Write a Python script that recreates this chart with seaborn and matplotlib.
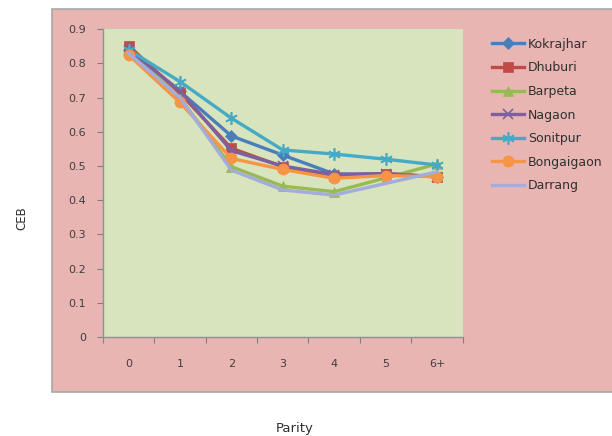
import numpy as np
import pandas as pd
import seaborn as sns
import matplotlib.pyplot as plt
from matplotlib.patches import Rectangle

# Chart data (CEB by parity)
parity = ['0', '1', '2', '3', '4', '5', '6+']
kokrajhar = [0.84, 0.718, 0.588, 0.532, 0.477, 0.475, 0.469]
dhuburi = [0.852, 0.713, 0.552, 0.498, 0.472, 0.478, 0.469]
barpeta = [0.84, 0.70, 0.498, 0.441, 0.425, 0.465, 0.506]
nagaon = [0.84, 0.72, 0.545, 0.50, 0.475, 0.478, 0.468]
sonitpur = [0.84, 0.747, 0.64, 0.547, 0.535, 0.52, 0.503]
bongaigaon = [0.825, 0.686, 0.522, 0.49, 0.464, 0.472, 0.469]
darrang = [0.83, 0.70, 0.488, 0.43, 0.415, 0.449, 0.483]

districts = ['Kokrajhar', 'Dhuburi', 'Barpeta', 'Nagaon', 'Sonitpur', 'Bongaigaon', 'Darrang']
series = [kokrajhar, dhuburi, barpeta, nagaon, sonitpur, bongaigaon, darrang]
colors = ['#4a7ebb', '#be4b48', '#98b954', '#7d60a0', '#46aac5', '#f69545', '#a3acdc']
markers = ['D', 's', '^', 'x', (6, 2, 0), 'o', None]
msizes = [6, 7, 7, 7, 9, 8, 0]

# long-form table for seaborn
rows = []
for name, vals in zip(districts, series):
    for i, v in enumerate(vals):
        rows.append({'District': name, 'pos': i, 'Parity': parity[i], 'CEB': v})
df = pd.DataFrame(rows)

fig = plt.figure(figsize=(6.12, 4.36), dpi=100)
fig.patch.set_facecolor('white')

# pink chart area with grey border
fig.patches.append(Rectangle((0.085, 0.101), 0.93, 0.878, transform=fig.transFigure,
                             facecolor='#e8b5b3', edgecolor='#a8a8a8', linewidth=1.2, zorder=-1))

ax = fig.add_axes([0.168, 0.227, 0.588, 0.706])
ax.set_zorder(1)
ax.set_facecolor('#d8e4bd')

for name, col, mk, ms in zip(districts, colors, markers, msizes):
    sub = df[df['District'] == name]
    sns.lineplot(data=sub, x='pos', y='CEB', ax=ax, color=col, marker=mk,
                 markersize=ms, linewidth=2.4, label=name,
                 markeredgecolor=col, markeredgewidth=1.2 if mk in ('x', (6, 2, 0)) else 0.5)

ax.set_xlim(-0.5, len(parity) - 0.5)
ax.set_ylim(0, 0.9)
ax.set_yticks(np.arange(0, 0.91, 0.1))
ax.set_yticklabels(['0'] + ['%.1f' % t for t in np.arange(0.1, 0.91, 0.1)])

# category boundaries as major ticks, labels on minor ticks at centres
ax.set_xticks(np.arange(-0.5, len(parity), 1.0))
ax.set_xticklabels([])
ax.set_xticks(np.arange(len(parity)), minor=True)
ax.set_xticklabels(parity, minor=True)
ax.tick_params(axis='x', which='major', length=4, color='#808080', direction='out')
ax.tick_params(axis='x', which='minor', length=0, pad=16, labelsize=8, labelcolor='#404040')
ax.tick_params(axis='y', length=4, color='#808080', direction='out', pad=8,
               labelsize=8, labelcolor='#404040')

for s in ['top', 'right']:
    ax.spines[s].set_visible(False)
for s in ['left', 'bottom']:
    ax.spines[s].set_color('#909090')
    ax.spines[s].set_linewidth(1)

ax.set_xlabel('')
ax.set_ylabel('')

leg = ax.legend(loc='upper left', bbox_to_anchor=(0.795, 0.925), bbox_transform=fig.transFigure,
                frameon=False, fontsize=9, handlelength=2.6, labelspacing=0.85,
                handletextpad=0.3, borderaxespad=0)
for t in leg.get_texts():
    t.set_color('#303030')

fig.text(0.036, 0.5, 'CEB', rotation=90, ha='center', va='center', fontsize=8.5, color='#303030')
fig.text(0.482, 0.018, 'Parity', ha='center', va='center', fontsize=9.5, color='#303030')

fig.savefig('out.png', dpi=100)
